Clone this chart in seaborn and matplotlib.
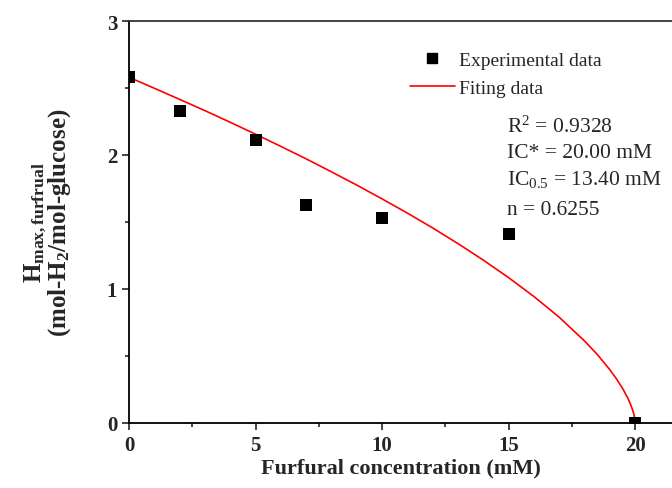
import matplotlib
matplotlib.use("Agg")
import matplotlib.pyplot as plt
import seaborn as sns
import pandas as pd
from matplotlib.ticker import MultipleLocator
from matplotlib.lines import Line2D

# Experimental data
conc = [0, 2, 5, 7, 10, 15, 20]
hmax = [2.58, 2.33, 2.11, 1.63, 1.53, 1.41, 0.0]

# Fitted curve
fit_conc = [0, 1, 2, 3, 4, 5, 6, 7, 8, 9, 10, 11, 12, 13, 14, 15, 16, 17, 18,
            18.5, 19, 19.25, 19.5, 19.7, 19.8, 19.9, 19.95, 20]
fit_h = [2.58, 2.498, 2.415, 2.331, 2.244, 2.155, 2.064, 1.971, 1.874, 1.775,
         1.672, 1.566, 1.455, 1.338, 1.215, 1.084, 0.943, 0.788, 0.611,
         0.511, 0.396, 0.331, 0.257, 0.187, 0.145, 0.094, 0.061, 0.0]

annot = [r"R$^2$ = 0.9328", "IC* = 20.00 mM", r"IC$_{0.5}$ = 13.40 mM", "n = 0.6255"]
annot_y = [0.739, 0.674, 0.609, 0.532]

sns.set_style("ticks")
plt.rcParams['font.family'] = ['Liberation Serif', 'DejaVu Serif']
plt.rcParams['mathtext.fontset'] = 'custom'
plt.rcParams['mathtext.rm'] = 'Liberation Serif'
plt.rcParams['mathtext.it'] = 'Liberation Serif:italic'
plt.rcParams['mathtext.bf'] = 'Liberation Serif:bold'

df_pts = pd.DataFrame({"c": conc, "h": hmax})
df_fit = pd.DataFrame({"c": fit_conc, "h": fit_h})

fig = plt.figure(figsize=(6.72, 4.89), dpi=100)
ax = fig.add_axes([0.192, 0.133, 0.808, 0.822])

sns.lineplot(data=df_fit, x="c", y="h", color="red", linewidth=1.2, ax=ax, sort=False)
sns.scatterplot(data=df_pts, x="c", y="h", marker="s", color="black", s=64,
                edgecolor="black", linewidth=0, ax=ax, zorder=3)

ax.set_xlim(0, 21.45)
ax.set_ylim(0, 3)
ax.xaxis.set_major_locator(MultipleLocator(5))
ax.xaxis.set_minor_locator(MultipleLocator(2.5))
ax.yaxis.set_major_locator(MultipleLocator(1))
ax.yaxis.set_minor_locator(MultipleLocator(0.5))
ax.tick_params(which='major', direction='out', length=5, width=1.2, labelsize=15)
ax.tick_params(which='minor', direction='out', length=3, width=1.2)
for lab in ax.get_xticklabels() + ax.get_yticklabels():
    lab.set_fontweight('bold')

for side in ['left', 'bottom', 'top']:
    ax.spines[side].set_linewidth(1.3)
    ax.spines[side].set_color('black')
ax.spines['top'].set_color('#333333')
ax.spines['right'].set_visible(False)

ax.set_xlabel("Furfural concentration (mM)", fontsize=16, fontweight='bold', labelpad=2)
ax.set_ylabel(r"$\mathbf{H_{max,furfrual}}$" + "\n" + r"(mol-H$_\mathbf{2}$/mol-glucose)",
              fontsize=18, fontweight='bold', labelpad=24, linespacing=0.85)

handles = [Line2D([], [], marker='s', color='black', linestyle='none', markersize=7.5),
           Line2D([], [], color='red', linewidth=1.2)]
ax.legend(handles, ["Experimental data", "Fiting data"], loc='upper left',
          bbox_to_anchor=(0.503, 0.945), frameon=False, fontsize=14,
          handlelength=2.3, handletextpad=0.2, labelspacing=0.55, borderaxespad=0)

for t, yy in zip(annot, annot_y):
    ax.text(0.697, yy, t, transform=ax.transAxes, fontsize=15.5,
            ha='left', va='center')

fig.savefig("out.png", dpi=100)
